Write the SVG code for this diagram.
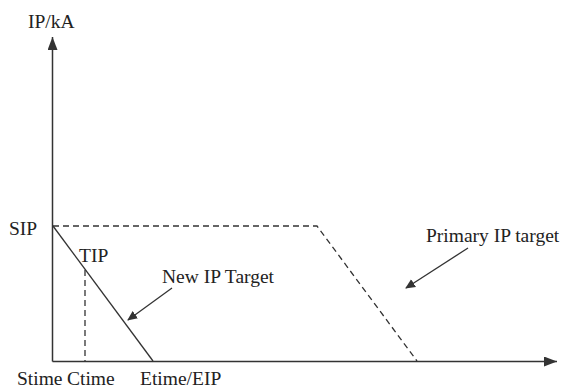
<svg xmlns="http://www.w3.org/2000/svg" width="565" height="388" viewBox="0 0 565 388">
<style>
text{font-family:"Liberation Serif","Times New Roman",serif;font-size:19.5px;fill:#222}
.ax{stroke:#333;stroke-width:1.5;fill:none}
.ln{stroke:#333;stroke-width:1.3;fill:none}
.ds{stroke:#333;stroke-width:1.3;fill:none;stroke-dasharray:6,4}
</style>
<defs>
<marker id="ah" markerWidth="10" markerHeight="10" refX="9" refY="5" orient="auto" markerUnits="userSpaceOnUse">
<path d="M0,0.5 L10,5 L0,9.5 Z" fill="#333"/>
</marker>
<marker id="ah2" markerWidth="14" markerHeight="12" refX="13" refY="5" orient="auto" markerUnits="userSpaceOnUse">
<path d="M0,0 L13,5 L0,10 Z" fill="#333"/>
</marker>
</defs>
<g id="axes">
<line class="ax" x1="52.5" y1="361.5" x2="52.5" y2="37" marker-end="url(#ah2)"/>
<line class="ax" x1="52.5" y1="361.5" x2="557" y2="361.5" marker-end="url(#ah2)"/>
</g>
<g id="connectors">
<polyline class="ds" points="53,226 317,226 417,361"/>
<line class="ln" x1="53" y1="226" x2="153" y2="361"/>
<line class="ds" x1="85" y1="270" x2="85" y2="361"/>
<line class="ln" x1="172" y1="288" x2="128" y2="320" marker-end="url(#ah)"/>
<line class="ln" x1="468" y1="248" x2="406" y2="288" marker-end="url(#ah)"/>
</g>
<g id="labels">
<text x="28" y="28">IP/kA</text>
<text x="9" y="235">SIP</text>
<text x="79" y="262">TIP</text>
<text x="162" y="283">New IP Target</text>
<text x="426" y="242">Primary IP target</text>
<text x="17" y="385">Stime</text>
<text x="67" y="385">Ctime</text>
<text x="140" y="385">Etime/EIP</text>
</g>
</svg>
